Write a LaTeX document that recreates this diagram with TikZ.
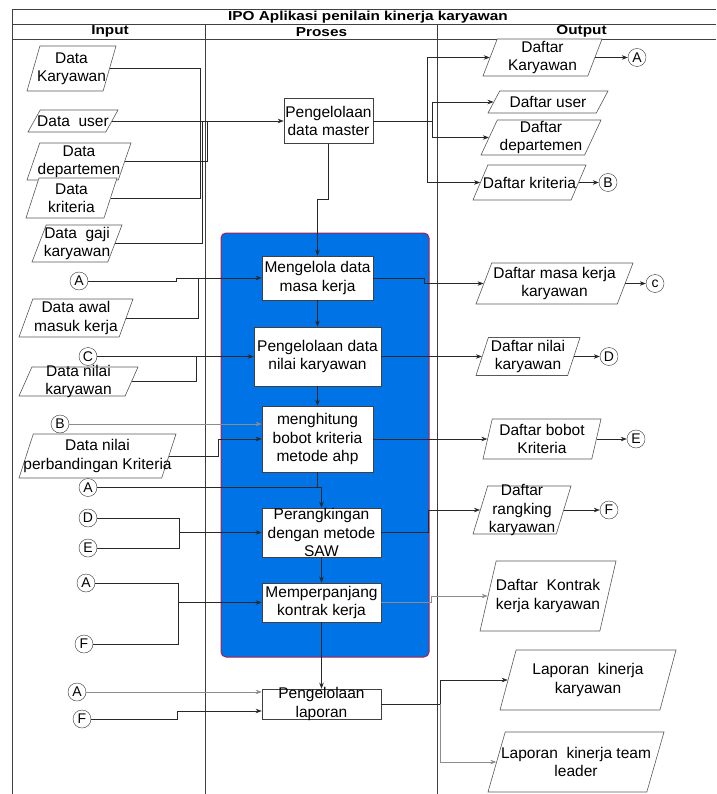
\documentclass[tikz,border=0pt]{standalone}
\usepackage{fontspec}
\setmainfont{Liberation Sans}
\newfontfamily\headfont{Liberation Sans}[FakeStretch=1.18]
\usetikzlibrary{shapes.geometric,arrows.meta}

\definecolor{procblue}{RGB}{0,116,230}
\definecolor{procedge}{RGB}{170,30,80}
\definecolor{wirecol}{RGB}{40,40,40}

\begin{document}
\begin{tikzpicture}[x=1pt,y=-1pt,
  font=\fontsize{15.5}{18.3}\selectfont,
  % data parallelogram: left angle, right angle, half height
  io/.style n args={3}{trapezium, trapezium left angle=#1, trapezium right angle=#2,
    trapezium stretches body=true, draw=black!65, line width=0.6pt,
    inner xsep=0pt, inner ysep=#3, fill=white},
  txt/.style={align=center, inner sep=0pt},
  proc/.style={draw=black!75, fill=white, line width=0.6pt, inner sep=0pt},
  conn/.style={circle, draw=black!80, fill=white, minimum size=18pt, inner sep=0pt,
    font=\fontsize{14}{14}\selectfont},
  wire/.style={draw=wirecol, line width=0.6pt},
  wireg/.style={draw=black!45, line width=0.6pt},
  arr/.style={-{Stealth[length=6pt,width=4.5pt]}},
  frame/.style={draw=black!75, line width=0.7pt},
  head/.style={font=\headfont\bfseries\fontsize{13}{15}\selectfont, inner sep=0pt},
]
\useasboundingbox (0,0) rectangle (716,794);

% table frame
\draw[frame] (12,9.5) -- (716,9.5);
\draw[frame] (12,24.3) -- (716,24.3);
\draw[frame] (12,39.3) -- (716,39.3);
\draw[frame] (12,9.5) -- (12,794);
\draw[frame] (205,24.3) -- (205,794);
\draw[frame] (437,24.3) -- (437,794);

\node[head] (title) at (368,17) {IPO Aplikasi penilain kinerja karyawan};
\node[head] (hin) at (110,31.8) {Input};
\node[head] (hpr) at (321.5,31.8) {Proses};
\node[head] (hout) at (581.5,31.8) {Output};

% process group
\node[draw=procedge, fill=procblue, rounded corners=5pt, line width=1pt,
      minimum width=208pt, minimum height=424pt, inner sep=0pt] (grp) at (325,445) {};

% input data
\node[io={74}{106}{22.5pt}, minimum width=89pt] (dk) at (71.5,68.5) {};
\node[txt] (dk-t) at (dk) {Data\\Karyawan};
\node[io={61}{119}{11pt}, minimum width=90pt] (du) at (73,121) {};
\node[txt] (du-t) at (du) {Data\ \ user};
\node[io={71}{109}{18.5pt}, minimum width=104pt] (dd) at (79,161.5) {};
\node[txt] (dd-t) at (dd) {Data\\departemen};
\node[io={72}{108}{20pt}, minimum width=91pt] (dkr) at (71.5,198) {};
\node[txt] (dkr-t) at (dkr) {Data\\kriteria};
\node[io={69}{111}{18.5pt}, minimum width=90pt] (dg) at (77,243.5) {};
\node[txt] (dg-t) at (dg) {Data\ \ gaji\\karyawan};
\node[io={70}{110}{19pt}, minimum width=114pt] (dam) at (76,318) {};
\node[txt] (dam-t) at (dam) {Data awal\\masuk kerja};
\node[io={66}{114}{14.5pt}, minimum width=119pt] (dnk) at (78.5,381.5) {};
\node[txt] (dnk-t) at (dnk) {Data nilai\\karyawan};
\node[io={72}{108}{22pt}, minimum width=157pt] (dnp) at (97.5,456) {};
\node[txt] (dnp-t) at (dnp) {Data nilai\\perbandingan Kriteria};

% input connectors
\node[conn] (a1) at (79,281) {A};
\node[conn] (c1) at (88,356.5) {C};
\node[conn] (b1) at (60,424) {B};
\node[conn] (a2) at (88,487.5) {A};
\node[conn] (d1) at (88,518) {D};
\node[conn] (e1) at (88,548) {E};
\node[conn] (a3) at (86,583) {A};
\node[conn] (f1) at (84,644) {F};
\node[conn] (a4) at (77,692) {A};
\node[conn] (f2) at (82,719) {F};

% processes
\node[proc, minimum width=89pt, minimum height=45pt] (master) at (328.5,121) {};
\node[txt] (master-t) at (master) {Pengelolaan\\data master};
\node[proc, minimum width=111pt, minimum height=44pt] (p1) at (317.5,278) {};
\node[txt] (p1-t) at (p1) {Mengelola data\\masa kerja};
\node[proc, minimum width=127pt, minimum height=59pt] (p2) at (317.5,356.5) {};
\node[txt] (p2-t) at (p2) {Pengelolaan data\\nilai karyawan};
\node[proc, minimum width=111pt, minimum height=66pt] (p3) at (317.5,439) {};
\node[txt] (p3-t) at (p3) {menghitung\\bobot kriteria\\metode ahp};
\node[proc, minimum width=119pt, minimum height=49pt] (p4) at (321.5,532.5) {};
\node[txt] (p4-t) at (p4) {Perangkingan\\dengan metode\\SAW};
\node[proc, minimum width=119pt, minimum height=39pt] (p5) at (321.5,602.5) {};
\node[txt] (p5-t) at (p5) {Memperpanjang\\kontrak kerja};
\node[proc, minimum width=119pt, minimum height=30pt] (p6) at (321.5,704) {};
\node[txt] (p6-t) at (p6) {Pengelolaan\\laporan};

% outputs
\node[io={69}{111}{18.5pt}, minimum width=119pt] (odk) at (542.5,57.5) {};
\node[txt] (odk-t) at (odk) {Daftar\\Karyawan};
\node[io={62}{118}{11pt}, minimum width=120pt] (ou) at (548,102) {};
\node[txt] (ou-t) at (ou) {Daftar user};
\node[io={65}{115}{17.5pt}, minimum width=120pt] (odd) at (541,137.5) {};
\node[txt] (odd-t) at (odd) {Daftar\\departemen};
\node[io={67}{113}{17.5pt}, minimum width=113pt] (okr) at (529.5,182.5) {};
\node[txt] (okr-t) at (okr) {Daftar kriteria};
\node[io={69}{111}{20.5pt}, minimum width=157pt] (omk) at (554.5,283.5) {};
\node[txt] (omk-t) at (omk) {Daftar masa kerja\\karyawan};
\node[io={72}{108}{19pt}, minimum width=104pt] (onk) at (528,356.5) {};
\node[txt] (onk-t) at (onk) {Daftar nilai\\karyawan};
\node[io={77}{103}{20pt}, minimum width=118pt] (obk) at (542,439) {};
\node[txt] (obk-t) at (obk) {Daftar bobot\\Kriteria};
\node[io={73}{107}{24pt}, minimum width=98pt] (ork) at (522,510) {};
\node[txt] (ork-t) at (ork) {Daftar\\rangking\\karyawan};
\node[io={77}{103}{35pt}, minimum width=136pt] (okk) at (548,596) {};
\node[txt] (okk-t) at (okk) {Daftar\ \ Kontrak\\kerja karyawan};
\node[io={75}{105}{30pt}, minimum width=176pt] (olk) at (588,680) {};
\node[txt] (olk-t) at (olk) {Laporan\ \ kinerja\\karyawan};
\node[io={74}{106}{30pt}, minimum width=176pt] (olt) at (576,762) {};
\node[txt] (olt-t) at (olt) {Laporan\ \ kinerja team\\leader};

% output connectors
\node[conn] (ca) at (637,57.5) {A};
\node[conn] (cb) at (608,182.5) {B};
\node[conn] (cc) at (655,283.5) {c};
\node[conn] (cd) at (609,356.5) {D};
\node[conn] (ce) at (636,439) {E};
\node[conn] (cf) at (609,510) {F};

% master data inputs
\coordinate (jA) at (200,121);
\coordinate (jB) at (202.5,121);
\coordinate (jC) at (207.5,121);
\draw[wire] (dk.east) -| (jA);
\draw[wire] (dkr.east) -| (jA);
\draw[wire] (dg.east) -| (jB);
\draw[wire] (dd.east) -| (jC);
\draw[wire,arr] (du.east) -- (master.west);

% master data outputs
\coordinate (jD) at (427,121);
\coordinate (jE) at (432,121);
\draw[wire] (master.east) -- (jE);
\draw[wire,arr] (jD) |- (odk.west);
\draw[wire,arr] (jD) |- (okr.west);
\draw[wire,arr] (jE) |- (ou.west);
\draw[wire,arr] (jE) |- (odd.west);

% process chain
\coordinate (m1) at (328.5,199);
\draw[wire,arr] (master.south) -- (m1) -| (p1.north);
\draw[wire,arr] (p1.south) -- (p2.north);
\draw[wire,arr] (p2.south) -- (p3.north);
\coordinate (k1) at (317.5,487.5);
\draw[wire] (p3.south) -- (k1);
\draw[wire,arr] (a2.east) -| (p4.north);
\draw[wire,arr] (p4.south) -- (p5.north);
\draw[wire,arr] (p5.south) -- (p6.north);

% inputs into processes
\coordinate (q1) at (176,281);
\draw[wire,arr] (a1.east) -- (q1) |- (p1.west);
\coordinate (q2) at (198,278);
\draw[wire] (dam.east) -| (q2);
\draw[wire,arr] (c1.east) -- (p2.west);
\coordinate (q3) at (196,356.5);
\draw[wire] (dnk.east) -| (q3);
\draw[wireg,arr] (b1.east) -- ([yshift=15pt]p3.west);
\coordinate (q4) at (218,456);
\draw[wire,arr] (dnp.east) -- (q4) |- (p3.west);
\coordinate (q5) at (179,532.5);
\draw[wire] (d1.east) -| (q5);
\draw[wire] (e1.east) -| (q5);
\draw[wire,arr] (q5) -- (p4.west);
\coordinate (q6) at (178,602.5);
\draw[wire] (a3.east) -| (q6);
\draw[wire] (f1.east) -| (q6);
\draw[wire,arr] (q6) -- (p5.west);
\draw[wireg,arr] (a4.east) -- ([yshift=12pt]p6.west);
\coordinate (q7) at (177,719);
\draw[wire,arr] (f2.east) -- (q7) |- ([yshift=-7pt]p6.west);

% process outputs
\coordinate (r1) at (424,278);
\draw[wire,arr] (p1.east) -- (r1) |- (omk.west);
\draw[wire,arr] (p2.east) -- (onk.west);
\draw[wire,arr] (p3.east) -- (obk.west);
\coordinate (r2) at (428,532.5);
\draw[wire,arr] (p4.east) -- (r2) |- (ork.west);
\coordinate (r3) at (431,602.5);
\draw[wireg,arr] (p5.east) -- (r3) |- (okk.west);
\coordinate (r4) at (440,704);
\draw[wire] (p6.east) -- (r4);
\draw[wire,arr] (r4) |- (olk.west);
\draw[wireg,arr] (r4) |- (olt.west);

% off-page connectors
\draw[wire,arr] (odk.east) -- (ca.west);
\draw[wire,arr] (okr.east) -- (cb.west);
\draw[wire,arr] (omk.east) -- (cc.west);
\draw[wire,arr] (onk.east) -- (cd.west);
\draw[wire,arr] (obk.east) -- (ce.west);
\draw[wire,arr] (ork.east) -- (cf.west);
\end{tikzpicture}
\end{document}
